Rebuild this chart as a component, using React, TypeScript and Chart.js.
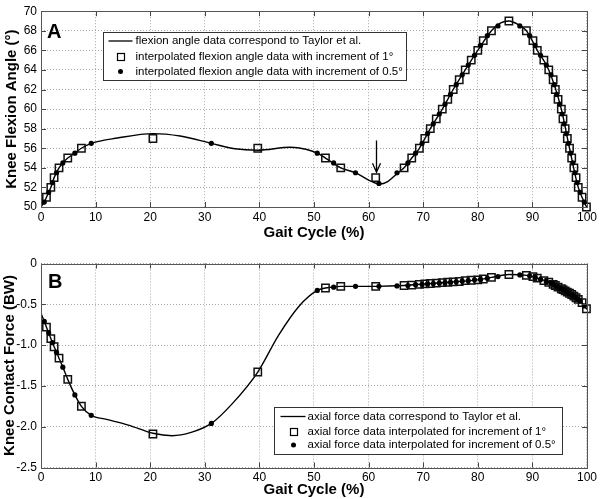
import React, { useEffect, useRef } from "react";
import { Chart, registerables } from "chart.js";

Chart.register(...registerables);

const FONT = '"Liberation Sans", Arial, Helvetica, sans-serif';
Chart.defaults.font.family = FONT;

// ---------- Panel A: knee flexion angle (curve, Taylor et al.) ----------
const curveAX = [0, 0.6, 1.0, 1.4, 1.8, 2.4, 3.3, 4.0, 4.9, 6.2, 7.4, 9.2, 14, 20.5, 25.5, 31.2, 35.5, 39.7, 45.7, 48.5, 50.6, 52.1, 54.9, 57.6, 60, 62.0, 63.5, 65.2, 66.5, 67.9, 69.3, 71.3, 73.5, 75.5, 77.7, 80, 82.5, 84.2, 85.7, 87.5, 88.9, 90.9, 93, 95.3, 96.8, 98.4, 100];
const curveAY = [50.0, 50.5, 51, 51.5, 52, 53, 54, 54.5, 55, 55.5, 56, 56.5, 57.05, 57.5, 57.25, 56.5, 55.95, 55.8, 56.1, 55.9, 55.5, 55, 54, 53.5, 52.75, 52.35, 52.6, 53.4, 54, 55, 56, 58, 60, 62, 64, 66, 68, 68.8, 69, 68.6, 68, 66, 64, 60, 56, 52, 49.9];

// ---------- Panel B: knee contact force (curve, Taylor et al.) ----------
const curveBX = [0, 0.6, 1.0, 1.4, 1.8, 2.1, 2.4, 2.85, 3.3, 4.0, 4.9, 6.2, 7.4, 9.2, 12, 16, 20.5, 24, 27.5, 31.2, 35, 39.7, 43.5, 47.3, 50.6, 52.1, 54.9, 61.3, 66.5, 70.3, 75.5, 80, 82.5, 85.7, 88.9, 90.9, 93, 95.3, 97.6, 99.1, 99.9, 100];
const curveBY = [-0.61, -0.71, -0.78, -0.85, -0.92, -0.97, -1.02, -1.09, -1.16, -1.27, -1.42, -1.61, -1.75, -1.86, -1.91, -1.98, -2.08, -2.11, -2.07, -1.96, -1.72, -1.33, -0.88, -0.52, -0.33, -0.3, -0.28, -0.28, -0.27, -0.25, -0.225, -0.2, -0.17, -0.135, -0.145, -0.18, -0.23, -0.31, -0.4, -0.48, -0.555, -0.56];

// ---------- interpolated points: 1° increment (squares) ----------
const sqX = [1.0, 1.8, 2.4, 3.3, 4.9, 7.4, 20.5, 39.7, 52.1, 54.9, 61.3, 66.5, 67.9, 69.3, 70.3, 71.3, 72.4, 73.5, 74.5, 75.5, 76.6, 77.7, 78.8, 80.0, 81.0, 82.5, 85.7, 88.9, 90.1, 90.9, 92.1, 93.0, 93.8, 94.2, 94.7, 95.3, 95.6, 96.0, 96.4, 96.8, 97.2, 97.6, 98.0, 98.4, 99.1, 99.9];
const sqA = [51, 52, 53, 54, 55, 56, 57, 56, 55, 54, 53, 54, 55, 56, 57, 58, 59, 60, 61, 62, 63, 64, 65, 66, 67, 68, 69, 68, 67, 66, 65, 64, 63, 62, 61, 60, 59, 58, 57, 56, 55, 54, 53, 52, 51, 50];
const sqB = [-0.78, -0.92, -1.02, -1.16, -1.42, -1.75, -2.09, -1.33, -0.3, -0.28, -0.28, -0.27, -0.265, -0.255, -0.25, -0.245, -0.24, -0.235, -0.23, -0.225, -0.22, -0.21, -0.205, -0.2, -0.19, -0.17, -0.135, -0.145, -0.16, -0.18, -0.21, -0.23, -0.255, -0.27, -0.29, -0.31, -0.32, -0.335, -0.35, -0.365, -0.38, -0.4, -0.42, -0.44, -0.48, -0.555];

// ---------- interpolated points: 0.5° increment (dots) ----------
const dotX = [0.6, 1.4, 2.1, 2.85, 4.0, 6.2, 9.2, 31.2, 50.6, 53.6, 57.6, 61.9, 65.2, 67.2, 68.6, 69.8, 70.8, 71.85, 72.95, 74.0, 75.0, 76.05, 77.15, 78.25, 79.4, 80.5, 81.75, 83.7, 87.7, 89.5, 90.5, 91.5, 92.55, 93.4, 94.0, 94.45, 95.0, 95.45, 95.8, 96.2, 96.6, 97.0, 97.4, 97.8, 98.2, 98.75, 99.5];
const dotA = [50.5, 51.5, 52.5, 53.5, 54.5, 55.5, 56.5, 56.5, 55.5, 54.5, 53.5, 52.4, 53.5, 54.5, 55.5, 56.5, 57.5, 58.5, 59.5, 60.5, 61.5, 62.5, 63.5, 64.5, 65.5, 66.5, 67.5, 68.5, 68.5, 67.5, 66.5, 65.5, 64.5, 63.5, 62.5, 61.5, 60.5, 59.5, 58.5, 57.5, 56.5, 55.5, 54.5, 53.5, 52.5, 51.5, 50.5];
const dotB = [-0.71, -0.85, -0.97, -1.09, -1.27, -1.61, -1.86, -1.96, -0.33, -0.29, -0.28, -0.28, -0.275, -0.27, -0.26, -0.255, -0.25, -0.245, -0.24, -0.235, -0.23, -0.225, -0.215, -0.21, -0.2, -0.195, -0.18, -0.16, -0.14, -0.15, -0.17, -0.195, -0.22, -0.24, -0.26, -0.28, -0.3, -0.315, -0.325, -0.34, -0.36, -0.375, -0.39, -0.41, -0.43, -0.46, -0.52];

// arrow in panel A: [gait %, from angle, to angle]
const arrowA = [61.3, 56.8, 53.55];

const legendA = [
  "flexion angle data correspond to Taylor et al.",
  "interpolated flexion angle data with increment of 1°",
  "interpolated flexion angle data with increment of 0.5°",
];
const legendB = [
  "axial force data correspond to Taylor et al.",
  "axial force data interpolated for increment of 1°",
  "axial force data interpolated for increment of 0.5°",
];

const pairs = (xs: number[], ys: number[]) => xs.map((x, i) => ({ x, y: ys[i] }));

const overlayPlugin = {
  id: "overlay",
  afterDraw(chart: any, _args: any, o: any) {
    const { ctx, chartArea: a, scales } = chart;
    const xs = scales.x;
    const ys = scales.y;
    ctx.save();
    // inner tick marks
    ctx.strokeStyle = "#444";
    ctx.lineWidth = 1;
    ctx.setLineDash([]);
    ctx.beginPath();
    xs.ticks.forEach((t: any) => {
      const px = Math.round(xs.getPixelForValue(t.value)) + 0.5;
      ctx.moveTo(px, a.bottom);
      ctx.lineTo(px, a.bottom - 5);
      ctx.moveTo(px, a.top);
      ctx.lineTo(px, a.top + 5);
    });
    ys.ticks.forEach((t: any) => {
      const py = Math.round(ys.getPixelForValue(t.value)) + 0.5;
      ctx.moveTo(a.left, py);
      ctx.lineTo(a.left + 5, py);
      ctx.moveTo(a.right, py);
      ctx.lineTo(a.right - 5, py);
    });
    ctx.stroke();
    // frame
    ctx.strokeStyle = "#555";
    ctx.strokeRect(Math.round(a.left) + 0.5, Math.round(a.top) + 0.5, Math.round(a.right - a.left), Math.round(a.bottom - a.top));

    // panel letter
    ctx.fillStyle = "#000";
    ctx.font = `bold 20px ${FONT}`;
    ctx.textAlign = "left";
    ctx.textBaseline = "alphabetic";
    ctx.fillText(o.letter, a.left + o.letterDx, a.top + o.letterDy);

    // arrow
    if (o.arrow) {
      const px = Math.round(xs.getPixelForValue(o.arrow[0])) + 0.5;
      const y1 = ys.getPixelForValue(o.arrow[1]);
      const y2 = ys.getPixelForValue(o.arrow[2]);
      ctx.strokeStyle = "#000";
      ctx.lineWidth = 1.3;
      ctx.beginPath();
      ctx.moveTo(px, y1);
      ctx.lineTo(px, y2);
      ctx.moveTo(px - 4, y2 - 9);
      ctx.lineTo(px, y2);
      ctx.lineTo(px + 4, y2 - 9);
      ctx.stroke();
    }

    // legend
    const L = o.legend;
    const bx = Math.round(a.left + L.dx) + 0.5;
    const by = Math.round(a.top + L.dy) + 0.5;
    ctx.fillStyle = "#fff";
    ctx.fillRect(bx, by, L.w, L.h);
    ctx.strokeStyle = "#333";
    ctx.lineWidth = 1;
    ctx.strokeRect(bx, by, L.w, L.h);
    ctx.font = `11.5px ${FONT}`;
    ctx.textBaseline = "middle";
    ctx.fillStyle = "#000";
    L.rows.forEach((txt: string, i: number) => {
      const ry = by + L.rowY[i];
      ctx.fillText(txt, bx + L.textX, ry);
      if (i === 0) {
        ctx.strokeStyle = "#000";
        ctx.lineWidth = 1.3;
        ctx.beginPath();
        ctx.moveTo(bx + L.lineX0, ry);
        ctx.lineTo(bx + L.lineX1, ry);
        ctx.stroke();
      } else if (i === 1) {
        ctx.strokeStyle = "#000";
        ctx.lineWidth = 1.2;
        ctx.strokeRect(Math.round(bx + L.markX - 3.5) + 0.5, Math.round(ry - 3.5) + 0.5, 7, 7);
      } else {
        ctx.beginPath();
        ctx.arc(bx + L.markX, ry, 2.5, 0, Math.PI * 2);
        ctx.fill();
      }
    });
    ctx.restore();
  },
};

function makeConfig(p: any) {
  return {
    type: "scatter",
    data: {
      datasets: [
        {
          label: "dots",
          data: pairs(dotX, p.dotY),
          pointStyle: "circle",
          pointRadius: 2.6,
          backgroundColor: "#000",
          borderColor: "#000",
          borderWidth: 0,
          showLine: false,
          clip: false,
        },
        {
          label: "squares",
          data: pairs(sqX, p.sqY),
          pointStyle: "rect",
          pointRadius: 5.2,
          backgroundColor: "rgba(0,0,0,0)",
          borderColor: "#111",
          borderWidth: 1.5,
          showLine: false,
          clip: false,
        },
        {
          label: "curve",
          data: pairs(p.curveX, p.curveY),
          showLine: true,
          pointRadius: 0,
          borderColor: "#000",
          borderWidth: 1.4,
          cubicInterpolationMode: "monotone",
          fill: false,
        },
      ],
    },
    options: {
      responsive: false,
      animation: false,
      events: [],
      layout: { padding: { left: 0, right: 11, top: p.padTop, bottom: 0 } },
      plugins: {
        legend: { display: false },
        tooltip: { enabled: false },
        overlay: p.overlay,
      },
      scales: {
        x: {
          type: "linear",
          min: 0,
          max: 100,
          ticks: { stepSize: 10, font: { size: 12 }, color: "#000", padding: 3, maxRotation: 0 },
          grid: { color: "#a8a8a8", drawTicks: false, lineWidth: 1 },
          border: { display: false, dash: [1, 2] },
          title: {
            display: true,
            text: "Gait Cycle (%)",
            font: { size: 15, weight: "bold" },
            color: "#000",
            padding: { top: 0, bottom: p.xTitlePad },
          },
          afterFit: (s: any) => {
            s.height = p.xHeight;
          },
        },
        y: {
          type: "linear",
          min: p.yMin,
          max: p.yMax,
          ticks: { stepSize: p.yStep, font: { size: 12 }, color: "#000", padding: 4 },
          grid: { color: "#a8a8a8", drawTicks: false, lineWidth: 1 },
          border: { display: false, dash: [1, 2] },
          title: {
            display: true,
            text: p.yTitle,
            font: { size: 15, weight: "bold" },
            color: "#000",
            padding: { top: p.yTitlePad, bottom: 0 },
          },
          afterFit: (s: any) => {
            s.width = 41;
          },
        },
      },
    },
    plugins: [overlayPlugin],
  };
}

const panelA = {
  curveX: curveAX,
  curveY: curveAY,
  sqY: sqA,
  dotY: dotA,
  yMin: 50,
  yMax: 70,
  yStep: 2,
  yTitle: "Knee Flexion Angle (°)",
  padTop: 5,
  xHeight: 43,
  xTitlePad: 8,
  yTitlePad: 3,
  overlay: {
    letter: "A",
    letterDx: 6,
    letterDy: 27,
    arrow: arrowA,
    legend: { dx: 62, dy: 21, w: 303, h: 48, rows: legendA, rowY: [8.5, 24, 39], lineX0: 5, lineX1: 29, textX: 32, markX: 17 },
  },
};

const panelB = {
  curveX: curveBX,
  curveY: curveBY,
  sqY: sqB,
  dotY: dotB,
  yMin: -2.5,
  yMax: 0,
  yStep: 0.5,
  yTitle: "Knee Contact Force (BW)",
  padTop: 13.5,
  xHeight: 31.5,
  xTitlePad: 0,
  yTitlePad: 1,
  overlay: {
    letter: "B",
    letterDx: 7,
    letterDy: 24,
    arrow: null,
    legend: { dx: 233, dy: 143, w: 288, h: 47, rows: legendB, rowY: [9, 24, 37.5], lineX0: 6, lineX1: 31, textX: 33, markX: 19 },
  },
};

function Panel({ cfg, height }: { cfg: any; height: number }) {
  const ref = useRef<HTMLCanvasElement | null>(null);
  useEffect(() => {
    if (!ref.current) return;
    const chart = new Chart(ref.current, makeConfig(cfg) as any);
    return () => chart.destroy();
  }, [cfg]);
  return <canvas ref={ref} width={600} height={height} style={{ display: "block", width: 600, height }} />;
}

export default function App() {
  return (
    <div style={{ position: "absolute", left: 0, top: 0, width: 600, height: 499, background: "#fff" }}>
      <Panel cfg={panelA} height={250} />
      <Panel cfg={panelB} height={249} />
    </div>
  );
}
